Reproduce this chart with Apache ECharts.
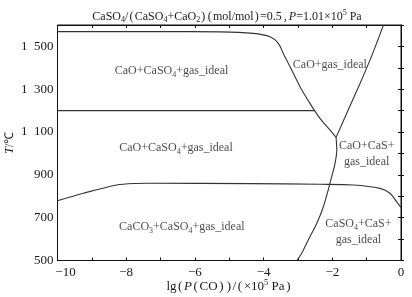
<!DOCTYPE html>
<html><head><meta charset="utf-8">
<script src="https://cdn.jsdelivr.net/npm/echarts@6/dist/echarts.min.js"></script>
<style>html,body{margin:0;padding:0;background:#fff}#c{width:412px;height:297px}</style>
</head><body><div id="c"></div>
<script>
// ---- data ----
const xTickLabels = [-10, -8, -6, -4, -2, 0];
const yTickLabels = [500, 700, 900, 1100, 1300, 1500];
const topBoundary = [[-10,1569],[-7,1569],[-5.27,1568],[-4.3,1561],[-3.81,1545],[-3.57,1514],[-3.43,1468],[-3.23,1405],[-2.94,1312],[-2.65,1234],[-2.36,1164],[-2.07,1110],[-1.89,1075]];
const upperRightBoundary = [[-1.89,1075],[-1.58,1188],[-1.19,1328],[-0.90,1437],[-0.71,1515],[-0.51,1600]];
const lowerBoundary = [[-1.89,1075],[-1.87,1016],[-1.92,954],[-2.02,891],[-2.12,829],[-2.26,751],[-2.45,674],[-2.70,596],[-2.89,534],[-3.03,500]];
const line1200 = [[-10,1200],[-2.51,1200]];
const line860 = [[-10,779],[-9.25,814],[-8.28,853],[-7.79,860],[-7.31,861],[-4.4,859],[-2.36,856],[-1.39,853],[-0.61,837],[-0.32,814],[-0.13,775],[0,748]];
const regionNames = [
  '{n|CaO+CaSO}{s|4}{n|+gas_ideal}',
  '{n|CaO+CaSO}{s|4}{n|+gas_ideal}',
  '{n|CaCO}{s|3}{n|+CaSO}{s|4}{n|+gas_ideal}',
  '{n|CaO+gas_ideal}',
  '{n|CaO+CaS+}\n{n|gas_ideal}',
  '{n|CaSO}{s|4}{n|+CaS+}\n{n|gas_ideal}'
];
const regionX = [-6.68, -6.55, -6.38, -2.07, -1.0, -1.24];
const regionY = [1385, 1024, 658, 1413, 997, 633];

// ---- chart ----
const F = 'Liberation Serif, Times New Roman, serif';
const TXT = '#1a1a1a';
const LC = '#333';
const base = {fontFamily: F, color: TXT, fontWeight: 'normal', textBorderWidth: 0};
const st = (o) => Object.assign({}, base, o);
const richLabel = {
  n: st({fontSize: 12, lineHeight: 16}),
  s: st({fontSize: 8, lineHeight: 9, verticalAlign: 'bottom'})
};
const fmtNum = v => {
  const s = Math.abs(v) >= 1000 ? String(Math.floor(v/1000)) + '\u2002' + String(v%1000).padStart(3,'0') : String(Math.abs(v));
  return (v < 0 ? '\u2212' : '') + s;
};
const chart = echarts.init(document.getElementById('c'), null, {renderer: 'canvas'});
const lineSeries = (d) => ({type: 'line', data: d, showSymbol: false, symbol: 'none', smooth: 0.3,
  lineStyle: {color: LC, width: 1.1}, silent: true, z: 3});
chart.setOption({
  animation: false,
  backgroundColor: '#fff',
  title: {
    text: '{n|CaSO}{s|4}{n|/}{q|(}{n|CaSO}{s|4}{n|+CaO}{s|2}{q|)}{q|(}{n|mol/mol}{q|)}{n|=0.5}{c|,}{i|P}{n|=1.01×10}{p|5}{n| Pa}',
    left: 222, textAlign: 'center', top: 4,
    textStyle: {fontWeight: 'normal', rich: {
      n: st({fontSize: 12, lineHeight: 15}),
      q: st({fontSize: 12, lineHeight: 15, padding: [0, 1.2, 0, 1.2]}),
      c: st({fontSize: 12, lineHeight: 15, padding: [0, 2, 0, 2]}),
      i: st({fontSize: 12, lineHeight: 15, fontStyle: 'italic'}),
      s: st({fontSize: 8, lineHeight: 9, verticalAlign: 'bottom'}),
      p: st({fontSize: 8, lineHeight: 9, verticalAlign: 'top'})
    }}
  },
  grid: {left: 57.5, right: 11, top: 25, bottom: 36.5, containLabel: false, outerBoundsMode: 'none',
    show: true, borderColor: '#111', borderWidth: 1, backgroundColor: '#fff'},
  xAxis: [{
    type: 'value', min: -10, max: 0, interval: 1,
    axisLine: {show: true, lineStyle: {color: '#111', width: 1}},
    axisTick: {show: true, inside: true, length: 3, lineStyle: {color: '#111'}},
    splitLine: {show: false},
    axisLabel: {margin: 6, fontFamily: F, fontSize: 13, color: TXT,
      formatter: v => {
        const r = Math.round(v);
        if (xTickLabels.indexOf(r) < 0) return '';
        return r === xTickLabels[0] ? '{m|' + fmtNum(r) + '}' : fmtNum(r);
      },
      rich: {m: st({fontSize: 13, padding: [0, 0, 0, 16]})}
    },
    name: '{n|lg}{q|(}{i|P}{q|(}{n|CO}{q|)}{q|)}{n|/}{q|(}{n|×10}{p|5}{n| Pa}{q|)}',
    nameLocation: 'middle', nameGap: 18, nameMoveOverlap: false,
    nameTextStyle: {rich: {
      n: st({fontSize: 13, lineHeight: 16}),
      q: st({fontSize: 13, lineHeight: 16, padding: [0, 1.6, 0, 1.6]}),
      i: st({fontSize: 13, lineHeight: 16, fontStyle: 'italic'}),
      p: st({fontSize: 8.5, lineHeight: 10, verticalAlign: 'top'})
    }}
  }, {
    type: 'value', position: 'top', min: -10, max: 0, interval: 1,
    axisLine: {show: true, lineStyle: {color: '#111'}},
    axisTick: {show: true, inside: true, length: 3, lineStyle: {color: '#111'}},
    axisLabel: {show: false}, splitLine: {show: false}
  }],
  yAxis: [{
    type: 'value', min: 500, max: 1600, interval: 100,
    axisLine: {show: true, lineStyle: {color: '#111', width: 1}},
    axisTick: {show: true, inside: true, length: 3, lineStyle: {color: '#111'}},
    splitLine: {show: false},
    axisLabel: {margin: 4, fontFamily: F, fontSize: 13, color: TXT,
      formatter: v => yTickLabels.indexOf(Math.round(v)) >= 0 ? fmtNum(Math.round(v)) : ''},
    name: '{i|T}{n|/℃}', nameLocation: 'middle', nameGap: 40, nameRotate: 90, nameMoveOverlap: false,
    nameTextStyle: {rich: {
      n: st({fontSize: 12, lineHeight: 15}),
      i: st({fontSize: 12, lineHeight: 15, fontStyle: 'italic'})
    }}
  }, {
    type: 'value', position: 'right', min: 500, max: 1600, interval: 100,
    axisLine: {show: true, lineStyle: {color: '#111'}},
    axisTick: {show: true, inside: true, length: 3, lineStyle: {color: '#111'}},
    axisLabel: {show: false}, splitLine: {show: false}
  }],
  series: [
    lineSeries(topBoundary),
    lineSeries(upperRightBoundary),
    lineSeries(lowerBoundary),
    Object.assign(lineSeries(line1200), {smooth: false}),
    lineSeries(line860),
    {
      type: 'scatter', symbolSize: 0, silent: true, z: 5,
      itemStyle: {color: 'transparent'},
      data: regionX.map((x, i) => [x, regionY[i]]),
      label: {show: true, position: 'inside', align: 'center', verticalAlign: 'middle',
        color: TXT, textBorderWidth: 0, textBorderColor: 'transparent',
        formatter: p => regionNames[p.dataIndex], rich: richLabel}
    }
  ]
});
</script></body></html>
